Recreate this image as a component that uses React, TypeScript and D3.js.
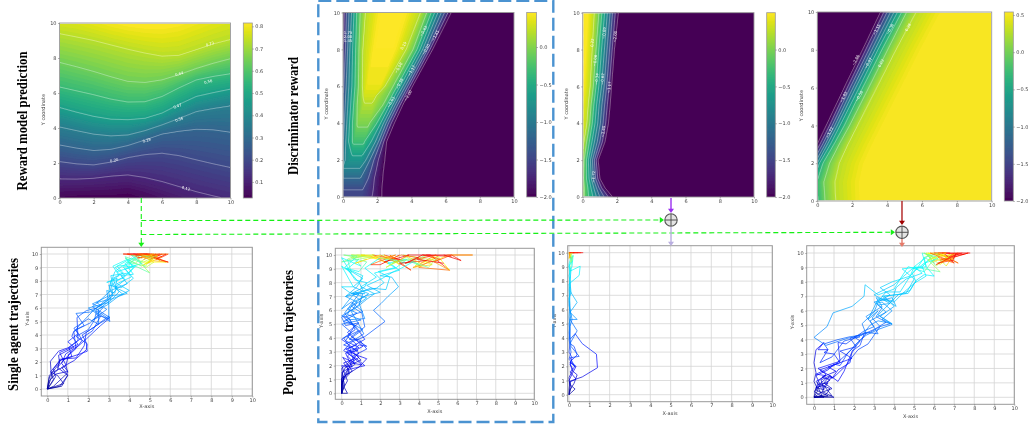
import React, { useEffect, useRef } from 'react'
import * as d3 from 'd3'

const width = 1028
const height = 425
const gridSize = 170

// ---- reward model field: height of each contour per x column
const rewardColumns = [0, 1, 2, 3, 4, 5, 6, 7, 8, 9, 10]
const rewardValues = [0.03, 0.12, 0.2, 0.28, 0.36, 0.47, 0.56, 0.64, 0.73, 0.82]
const rewardHeights = [
  [-0.1, 1.09, 2.08, 3.03, 4.06, 5.17, 6.34, 7.75, 9.39, 11],
  [0, 1.08, 1.95, 2.85, 3.85, 4.9, 6.12, 7.5, 9.2, 11],
  [0, 1.13, 1.89, 2.71, 3.65, 4.66, 5.9, 7.23, 9, 10.6],
  [0, 1.25, 2.05, 2.78, 3.55, 4.5, 5.65, 6.93, 8.75, 10.3],
  [0.1, 1.32, 2.31, 3, 3.6, 4.47, 5.48, 6.66, 8.5, 10.1],
  [-0.2, 1.17, 2.48, 3.32, 3.85, 4.55, 5.5, 6.6, 8.28, 10],
  [-0.6, 0.94, 2.56, 3.66, 4.18, 4.85, 5.8, 6.75, 8.1, 10],
  [-1, 0.65, 2.42, 3.82, 4.55, 5.35, 6.3, 7.05, 8.15, 10.2],
  [-1.5, 0.36, 2.18, 3.93, 4.94, 5.8, 6.75, 7.4, 8.47, 10.6],
  [-2, 0.12, 1.95, 3.9, 5.12, 6.02, 6.95, 7.7, 8.8, 11],
  [-2.5, -0.1, 1.74, 3.76, 5.27, 6.22, 7.1, 7.96, 9.05, 11.5],
]
const rewardTicks = [0.1, 0.2, 0.3, 0.4, 0.5, 0.6, 0.7, 0.8]
const rewardLabels: [string, number, number, number][] = [
  ['0.12', 7.4, 0.55, 15], ['0.20', 3.2, 2.15, -12], ['0.28', 5.1, 3.3, -15], ['0.36', 7, 4.5, -20],
  ['0.47', 6.9, 5.25, -20], ['0.56', 8.7, 6.65, -15], ['0.64', 7, 7.1, -15], ['0.73', 8.8, 8.8, -15],
]

// ---- discriminator reward, population: crossings per row, left and right of the ridge
const discRows = [0, 0.4, 1, 1.5, 2, 3, 4, 5, 5.5, 6, 8, 10]
const discLevels = [-2, -1.73, -1.45, -1.17, -0.9, -0.63, -0.36, -0.08, 0.19]
const discLeft = [
  [-1.2, -1, -0.8, -0.6, -0.5, -0.4, -0.3, -0.2, -0.1],
  [-1, -0.85, -0.7, -0.55, -0.45, -0.35, -0.25, -0.15, -0.05],
  [-0.8, -0.65, -0.45, -0.3, -0.2, -0.1, 0, 0.1, 0.2],
  [-0.7, -0.55, -0.35, -0.2, -0.05, 0.15, 0.3, 0.4, 0.5],
  [-0.6, -0.4, -0.2, -0.05, 0.12, 0.6, 0.7, 0.75, 0.8],
  [-0.5, -0.3, -0.12, 0.02, 0.16, 0.32, 0.55, 0.8, 0.9],
  [-0.35, -0.2, -0.05, 0.08, 0.22, 0.38, 0.55, 0.82, 1.05],
  [-0.3, -0.15, 0, 0.13, 0.28, 0.45, 0.62, 0.82, 1.25],
  [-0.28, -0.13, 0.02, 0.15, 0.31, 0.48, 0.66, 0.86, 1.17],
  [-0.25, -0.1, 0.05, 0.18, 0.34, 0.52, 0.7, 0.9, 1.13],
  [-0.1, 0.02, 0.14, 0.27, 0.4, 0.56, 0.74, 0.93, 1.15],
  [-0.05, 0.08, 0.2, 0.35, 0.5, 0.64, 0.8, 1, 1.3],
]
const discRight = [
  [2.28, 1.7, 1, 0.9, 0.8, 0.7, 0.6, 0.5, 0.4],
  [2.28, 1.77, 1.15, 0.95, 0.85, 0.75, 0.65, 0.55, 0.45],
  [2.33, 1.83, 1.48, 1, 0.9, 0.8, 0.7, 0.6, 0.5],
  [2.38, 1.95, 1.65, 1.3, 0.95, 0.85, 0.75, 0.65, 0.55],
  [2.45, 2.06, 1.8, 1.57, 1.34, 0.95, 0.85, 0.82, 0.81],
  [2.55, 2.38, 2.22, 2.08, 1.9, 1.65, 1.25, 1.1, 0.95],
  [3, 2.82, 2.66, 2.52, 2.37, 2.2, 1.98, 1.55, 1.3],
  [3.5, 3.35, 3.2, 3.06, 2.92, 2.75, 2.58, 2.35, 1.65],
  [3.78, 3.63, 3.5, 3.35, 3.2, 3.04, 2.87, 2.64, 1.95],
  [4.06, 3.92, 3.79, 3.65, 3.5, 3.34, 3.16, 2.93, 2.45],
  [5.24, 5.09, 4.95, 4.82, 4.66, 4.5, 4.33, 4.1, 3.7],
  [6.33, 6.14, 5.94, 5.75, 5.55, 5.36, 5.16, 4.9, 4.54],
]
const discRidge = [0.15, 0.2, 0.35, 0.52, 0.805, 0.92, 1.12, 1.42, 1.55, 1.8, 2.4, 2.9]
const discPeak = [-1.5, -1.45, -1.18, -0.92, -0.73, -0.3, -0.02, 0.17, 0.29, 0.38, 0.46, 0.46]
const discTicks = [-2, -1.5, -1, -0.5, 0]
const discLabels: [string, number, number, number][] = [
  ['0.19', 3.54, 8.2, -60], ['-0.08', 3.25, 7, -60], ['-0.36', 3.3, 6.15, -60], ['-0.63', 2.8, 5.15, -60],
  ['-1.17', 4, 6.85, -60], ['-0.90', 4.85, 8, -60], ['-0.63', 4.7, 9, -60], ['-1.45', 5.4, 8.75, -60],
  ['-2.00', 3.8, 5.5, -60], ['-1.73', 0.2, 8.9, 0], ['-2.00', 0.2, 8.7, 0], ['-1.45', 0.2, 8.5, 0],
]

// ---- discriminator reward, column 3: crossings per row
const thirdRows = [0, 0.5, 1, 2, 3, 4, 5, 6, 8, 10]
const thirdLevels = [-2, -1.72, -1.45, -1.17, -0.89, -0.62, -0.34, -0.06, 0.22]
const thirdCrossings = [
  [1.75, 1.5, 1.25, 1, 0.8, 0.6, 0.35, 0.1, -0.1],
  [1.3, 1.1, 0.95, 0.8, 0.65, 0.48, 0.3, 0.1, -0.08],
  [1, 0.88, 0.75, 0.62, 0.5, 0.37, 0.22, 0.05, -0.1],
  [0.9, 0.79, 0.68, 0.57, 0.45, 0.33, 0.22, 0.08, -0.05],
  [1.3, 1.15, 1, 0.85, 0.69, 0.54, 0.39, 0.23, 0.08],
  [1.5, 1.34, 1.19, 1.03, 0.88, 0.72, 0.56, 0.41, 0.25],
  [1.6, 1.44, 1.28, 1.12, 0.96, 0.81, 0.65, 0.49, 0.33],
  [1.68, 1.55, 1.4, 1.25, 1.1, 0.94, 0.78, 0.62, 0.44],
  [1.85, 1.72, 1.57, 1.42, 1.27, 1.1, 0.94, 0.78, 0.56],
  [2.08, 1.9, 1.74, 1.6, 1.44, 1.28, 1.12, 0.95, 0.68],
]
const thirdLabels: [string, number, number, number][] = [
  ['0.22', 0.56, 8.37, -85], ['-0.06', 0.72, 7.4, -85], ['-0.34', 0.82, 6.4, -85], ['-0.62', 1.15, 6.4, -85],
  ['-0.89', 1.25, 8.9, -85], ['-1.17', 1.55, 5.95, -85], ['-1.45', 1.2, 3.55, -85], ['-2.00', 1.89, 8.7, -85],
  ['-1.72', 0.62, 1.1, -85],
]

// ---- discriminator reward, column 4: crossings per row
const fourthRows = [0, 1, 2, 3, 4, 6, 8, 10]
const fourthLevels = [-2, -1.72, -1.43, -1.15, -0.87, -0.58, -0.3, -0.02, 0.26]
const fourthCrossings = [
  [-1.2, -1, -0.8, -0.6, -0.4, -0.2, 0.05, 0.44, 1.05],
  [-1, -0.85, -0.7, -0.55, -0.4, -0.25, -0.03, 0.37, 1],
  [-0.6, -0.45, -0.3, -0.15, 0, 0.12, 0.32, 0.7, 1.25],
  [0, 0.15, 0.3, 0.45, 0.58, 0.75, 0.95, 1.25, 1.75],
  [0.52, 0.7, 0.85, 1, 1.15, 1.3, 1.55, 1.85, 2.3],
  [1.55, 1.72, 1.88, 2.05, 2.2, 2.4, 2.6, 2.95, 3.4],
  [2.6, 2.77, 2.95, 3.12, 3.3, 3.47, 3.7, 4.03, 4.5],
  [3.63, 3.82, 4, 4.2, 4.4, 4.6, 4.84, 5.12, 5.66],
]
const fourthLabels: [string, number, number, number][] = [
  ['-1.72', 0.7, 3.63, -62], ['-1.43', 1.5, 5.5, -62], ['-2.00', 2.2, 7.46, -62], ['-0.58', 2.4, 5.55, -62],
  ['-0.87', 2.93, 7.3, -62], ['0.02', 3.65, 7.3, -62], ['-1.15', 3.4, 9.07, -62], ['-0.30', 4.17, 9.1, -62],
  ['0.26', 5.2, 9.2, -62],
]

const axisTicks = [0, 2, 4, 6, 8, 10]
const trajTicks = [0, 1, 2, 3, 4, 5, 6, 7, 8, 9, 10]

// ---- trajectories, each one x,y,x,y...
const singleAgentPaths = [
  [0,0,.6,.2,1,1,.5,1.6,.9,2.3,1.4,3,1.3,4.2,1.5,4.6,1.8,5.1,2.3,5.9,2.9,6.5,3.2,7,3.1,7.9,3.3,8.7,3.6,9.05,4.2,9.5,4.6,10,5,9.7,5.4,9.9,4.9,9.3,5.3,10,4.7,9.6],
  [0,0,.2,.9,.15,2.05,.55,2.8,1.1,3.1,1.5,3.6,1.45,5.3,1.9,5.8,2.4,6,3,6.8,3.4,7.4,3.2,8.2,3.7,8.6,3.4,9.1,4,9.2,4.4,9.9,5,10,5.5,9.5,5.1,9.9,5.9,10,5.5,9.7,4.8,10],
  [0,0,.7,.2,1,1.05,.7,1.6,1.3,2.1,1.9,2.9,1.95,3.3,1.7,4,2.3,4.6,3,5.4,3.05,5,2.3,5.8,2.9,6.2,3.5,6.9,4,7.3,3.4,7.8,4.1,8.3,3.7,9.05,4.3,9.1,5,8.6,4.5,9.4,5.8,9.4,5.1,9.9,4.4,9.7,5.5,10],
  [0,0,.1,1,.6,1.9,.55,2.5,1.3,3.1,1,3.5,1.5,4.1,1.3,4.5,2,5.2,2.5,4.8,2.5,5.9,3.1,6.6,3,7.1,3.1,8,3.5,8.4,3.2,9.1,3.9,9.6,4.3,9.3,4.7,10,5.2,9.5,5.9,9.4,4.9,9.8,4.2,10],
  [0,0,.3,.7,.2,1.2,.9,1.7,1.05,2.6,1.6,3.3,1.9,3.7,2.6,4.7,3,5.2,2.4,5.5,2.7,6,2.2,6.3,3,6.9,3.7,7,3.3,7.5,3.8,8.1,3.4,8.7,4.2,9.05,3.8,9.8,4.5,9.4,5.2,10,4.6,9.7,3.9,10,4.9,10],
  [0,0,.1,.6,.4,1.1,1,1.3,.7,1.9,.9,2.6,1.5,3.2,1.7,3.6,1.4,4.4,1.8,4.7,1.4,5.6,2.1,5.7,2.7,6.3,3.2,6.9,3,7.7,3.6,7.5,4.2,8.2,3.8,8.9,4.6,9.3,4.1,9.9,5.3,9.8,4.7,9.2,5.6,9.8,5.1,10,4.3,9.9],
  [0,0,.2,.4,.4,.9,.3,1.5,.7,2.2,1.2,2.4,1.05,3.1,1.7,3.8,2.2,4.3,2.6,5.4,2.2,5.1,2.9,5.9,2.4,6.4,3.2,6.7,3.9,7.1,3.2,7.6,3.1,8.4,4,8.6,4.3,9.1,3.9,9.4,4.8,9.1,5.1,9.9,4.4,10,5,9.6,5.6,10],
  [0,0,.8,.4,.5,1,.15,1.25,.6,2.1,1.6,2.6,1.95,2.8,1.9,3.4,1.4,3.9,2,4.4,2.3,5.1,2.4,5.8,3,5.2,3,6.2,2.9,7.3,3.3,7.1,3.4,8.2,2.9,7.9,3.7,8.2,4.2,9,3.8,9.7,4.6,9.1,5.4,9.9,4.7,10,5.9,9.4],
  [0,0,.3,.2,1,1.2,.9,1.8,.6,2.7,1.5,3.3,1.2,3.9,1.3,4.3,2.1,4.9,2.5,5.5,2,6,3,6.4,3.5,7.2,3.2,7.8,3.8,8.4,3.3,9,4.1,9.7,4.7,9.4,5.2,9.8,4.5,10,5.8,10,5.3,9.6],
  [0,0,.1,.9,.5,1.4,.6,2.2,1.4,2.3,1.8,3.2,1.9,4.2,2.6,4.9,3.05,5.3,2.2,6.1,2.6,6.6,3.1,7.3,3.9,7.8,3.6,8.4,4.2,8.5,3.8,9.3,4.3,9.8,4.8,9,5.2,9.4,4.6,9.9,3.7,10,5,10],
]

const populationPaths = [
  [0,0,.3,0,.1,.5,0,1,.3,1.7,1.2,2,.6,2.7,1.3,3.2,.9,3.9,.4,3.9,1.1,4.6,.2,5.3,1.2,5.4,.9,6.5,1.3,6.9,.4,7.3,0,7.7,.6,7.7,0,9.2,.5,8.7,.3,9.7,.8,10,1.5,9.9,2.4,9.4,1.6,10,3.2,9.6,2.2,10],
  [0,0,0,.9,.2,1.3,.9,1.9,1.3,2.5,.7,2.8,.2,3.2,.8,3.5,.3,4.1,.7,4.9,.1,5.2,.8,5.8,.3,6.1,1,6.7,.6,7.1,1.5,7.6,2.3,7.5,2.5,8.4,1.9,8.8,2.8,9.1,2.2,9.7,3.4,9.4,4.4,10,3.8,9.2,5,9.9,4,9.1,5.6,8.9,4.6,10,3.4,10],
  [0,0,0,.7,.3,1.6,.5,2.2,1.05,2.05,.6,2.6,.1,3.1,.5,3.7,1.2,4.1,2.25,5.2,1.65,6,2.05,6.5,2.4,7,2.95,7.7,2.6,8.4,2,8.5,3,8.9,2.4,9.4,3.3,9.7,4.1,9.2,3.2,10,4.9,9.6,5.5,10,6.8,10,5.7,10,6.2,9.6,5.3,10],
  [0,0,.1,1,0,1.8,.5,2.4,.9,2.9,.3,3.6,0,3.9,.7,4.6,.4,5.4,0,5.6,.6,6.1,.8,6.6,.2,7,1.2,7.7,1.3,8,.7,8.2,.3,9,.9,9.7,0,9.5,1.2,10,.5,10,1.9,9.7,2.8,10,1.5,9.3,2,9.3,3,10],
  [0,0,0,1.3,.2,1.9,1,2.4,.6,3,1.1,3.4,.3,4.4,.9,5.1,.2,4.9,0,5.5,.9,6.4,1.1,7.2,.5,7.2,1.8,7.6,2.2,8,1.7,8.7,2.8,9.05,3.4,9.7,2.6,9.4,3.9,9.8,4.7,9.3,3.7,9.1,5.1,9.7,4.2,10,5.7,9.9],
  [0,0,.15,.6,0,1.5,.7,2.1,.3,2.7,.9,3.5,1.3,3.4,.5,4.1,1.2,4.8,1.05,5.8,.5,6.3,.85,6.7,1.4,7.2,.6,7.7,1.1,8.3,.4,8.9,0,9.8,1,9.2,.5,10,1.6,9.8,2.2,10,3,9.3,2.5,10,3.6,8.9,3,9.4,4.4,9.6],
  [0,0,0,.5,.1,1.1,.4,1.6,.1,2.2,.7,2.5,.25,3,.9,3.3,.2,3.8,.5,4.4,0,5,1,5.3,.3,5.7,.6,6.6,1.25,7.05,2,7.3,1.3,7.8,2.1,8.3,2.7,8.8,3.1,9.05,3.7,9.5,4.5,9.1,5,9.9,5.6,8.9,4.8,9.5,5.7,10,4.4,10],
  [0,0,.05,.9,.4,1.4,.25,2,.9,2.6,.3,3.2,1.2,3.9,.8,4.7,.1,5.5,1.1,5.9,.5,6.6,0,6.1,.7,7.3,1.2,7.2,.9,8,.35,8.9,.15,9.1,.8,9.9,.1,10,1.3,9.7,.7,9.4,2,10,2.8,9.5,3.5,10,2.2,9.5],
  [0,0,.1,.4,.3,.9,0,2,.55,1.9,.2,2.9,.85,3.1,.1,3.5,.7,3.9,1.15,4.3,.8,5.2,.5,5.9,1.3,6.8,1.7,7.2,1,7.7,1.8,8.4,1.2,9.05,2,9.8,2.9,9.6,2.3,9.1,3.4,9.9,4.1,9.4,4.9,10,3.9,9.7,5.3,9.4],
  [0,0,0,1.1,.55,1.6,.05,2.6,.65,2.2,.4,3.4,.1,4,.85,4.5,.15,5.8,.9,7.2,.2,7,.8,7.7,1.1,8.5,.2,9.05,.9,8.8,1.3,9.5,.5,9.8,1.7,10,1,10,2.5,9.7,3.1,10,4,9.8,3.3,9.4,4.2,10],
]

const thirdPaths = [
  [0,0,.3,.4,.05,.7,0,1,.2,1.6,.35,2,.05,2.3,.4,2.8,.25,3.4,.05,3.6,.4,4.5,.05,5.3,.4,5.3,.05,5.8,.4,6.5,.05,7.3,0,7.8,.5,8.4,.55,9.05,.05,8.7,.15,9.5,.05,9.9,0,10,.4,10,.7,10],
  [0,0,.1,.5,.05,.95,.65,1.25,1.4,1.9,1.35,2.85,.65,3.6,.3,4.3,.05,3.9,.05,4.8,.15,5.3,.05,6,0,6.8,.1,7.2,.05,7.9,0,8.4,.15,9.05,.2,9.8,.05,9.6,0,10,.3,10,.6,10],
  [0,0,.05,.35,.25,.8,.4,1.4,.15,1.7,.05,2.3,.3,1.95,.05,2.6,.5,2.7,.1,3.4,.05,4,0,5,.1,5.6,0,6.3,.05,7,.05,8,.1,8.8,0,9.05,.2,9.8,.1,9.3,0,10,.2,10,.45,10],
  [0,0,0,.4,.05,.9,.35,1.1,.05,1.6,.3,2,0,2.5,.1,3,0,3.9,.05,4.6,0,5.5,.05,6.4,0,7.4,.05,8.3,0,9.05,.15,9.4,.05,9.9,.1,9.6,0,10,.25,10],
  [0,0,.05,.6,0,1.2,.2,1.8,.05,2.1,.15,2.6,0,3,.05,3.6,0,4.4,.05,5,.05,6,0,6.6,.05,7.6,.05,8.6,0,9.2,.1,9.7,.15,10,0,9.6,.05,10,.3,10],
]

const fourthPaths = [
  [0,0,.5,0,0,.4,.3,.8,.1,1.1,.6,1.5,.1,1.6,1,2.2,1.4,2.7,1.8,3.2,2.1,3.7,2.6,4.3,3.2,4.7,3.9,5.05,3.3,5.6,4,6.3,3.5,7,4.6,7.2,5,8.2,4.4,8.9,5.4,9.05,5.9,9.8,5.5,10,6.3,9.2,7,10,6.5,9.5,7.7,10,6.9,9.7],
  [0,0,1,0,.4,.4,.7,1,.2,.9,.4,.6,.9,1.4,.3,1.9,1.3,2.4,1,3,.5,3.1,.7,3.3,.5,3.7,1.2,4,1.8,4.2,2.4,4.3,2.8,5,3.2,5.3,3.9,5.1,3.2,5.7,3.7,6.4,4.2,7.1,4.8,7.4,5.1,8.1,5.5,8.5,6,8.4,5.6,9.05,5.4,10,6.2,9.7,6.6,9.1,7,9.9,6.3,9.5,7.4,10],
  [0,0,.2,.5,0,1.1,.1,1.7,0,2.4,.1,3.3,.5,3.8,.2,3.3,.7,3.3,.3,2.4,.9,2.8,1.5,3.9,2.3,4.2,1.7,4.1,.6,3.6,0,4.15,.65,4.9,.95,5.85,1.9,6.3,2.5,7,2.55,7.8,3.2,7.1,4,7.5,4.3,8.2,4.7,9.05,5.5,8.7,6,9.6,5.7,10,6.5,9.8,7.2,9.3,6.2,10,6.8,10],
  [0,0,.6,.2,.8,.6,.3,.9,.1,1.5,.7,1.9,1,2.3,1.3,2.2,1.7,3.1,2,3.5,2.6,4.4,2.4,5.1,3,5.9,3.2,6.6,3.8,7.1,3.3,7.6,3.9,8,4.8,8.4,5.2,9.05,5.5,9.7,6,9.3,5.6,10,6.6,9.8,7.2,10,6.2,9.3,6.9,9.5],
  [0,0,.3,.3,.9,.6,.5,1,.8,1.5,1.2,1.1,1.5,1.8,1.85,3,2,3.3,2.3,3.6,2.5,4.4,3,4.7,3.6,5.2,3.1,5.6,3.4,6.2,3,6.6,3.9,6.9,4.1,6.3,3.4,7,4.7,7.2,5,7.9,5.6,8.4,5.4,9.05,5.7,9.5,6.3,9.9,5.9,9.4,6.7,9.7,6.4,10,7.5,9.9],
  [0,0,.1,.7,.5,.5,.35,1.2,.8,1.5,.9,1.3,1.2,1.9,1.8,2.4,1.9,3.2,2.3,3.9,2,4.2,2.8,4.5,3.3,4.9,2.9,5.5,3.2,6,2.7,5.4,3.2,6.8,4,6.6,4.5,7.3,5.1,8,4.9,8.6,5.5,9.3,6.2,9.6,5.6,9.9,6.4,9.4,7,9.6,6,10,7.8,10],
  [0,0,.7,.1,.1,.5,.2,1.1,.6,1.6,.2,2,1.3,2.5,1.2,3.8,1.6,3.7,2.1,4.2,2.5,4.6,3,4.9,2.6,5.6,3.4,6.3,3.1,6.9,3.9,6.7,4.1,7.6,4.6,8.2,5.4,8.6,5,9.05,5.7,9.8,6.1,9.1,6.8,9.9,6.2,9.7,7,9.3,6.5,10],
  [0,0,.4,.1,.2,.7,.8,1.2,.4,1.4,1.1,1.8,.7,2.1,1.9,2.7,1.3,3.2,2.1,3.5,1.8,4.1,2.6,4.5,3.2,4.4,2.8,5.3,3.6,5.9,3.2,6.4,3.8,6.5,3,7.1,4,7.8,4.4,8.3,4.9,8.9,5.6,9.05,5.5,9.7,6.2,10,6.8,9.6,6.1,9.2,7.3,10],
  [0,0,.9,.1,.5,.8,.1,.7,.6,1.3,1,1.4,1.6,2.2,1.85,2.7,2.2,3.3,2.7,3.7,3.3,4.9,3.8,5.1,3.4,5.4,3.9,6,3.4,6.6,3.1,6.5,3.6,7.3,4.3,7.3,4.8,8.4,5,9.05,5.5,8.9,6.3,8.7,5.7,9.5,6.6,10,5.8,10,6.9,9.4,7.1,10],
]

const jet = d3.scaleLinear<string>()
  .domain([0, 0.11, 0.35, 0.64, 0.89, 1])
  .range(['#00007f', '#0000ff', '#00ffff', '#ffff00', '#ff0000', '#d00000'])

// contour heights for one row, then the value along that row
const crossingField = (rows: number[], table: number[][], values: number[]) => {
  const rowScale = d3.scaleLinear<any>().domain(rows).range(table).clamp(true)
  return (u: number, v: number) => {
    const knots: number[] = rowScale(u)
    return d3.scaleLinear().domain(knots).range(values).clamp(true)(v)
  }
}

const heatPanels = () => {
  const reward = crossingField(rewardColumns, rewardHeights, rewardValues)

  const discTable = discRows.map((_, i) => [
    discLeft[i][0] - 0.5,
    ...discLeft[i],
    discRidge[i],
    ...[...discRight[i]].reverse(),
    discRight[i][0] + 0.15,
  ])
  const discValues = [-2.2, ...discLevels, 0.68, ...[...discLevels].reverse(), -2.2]
  const discRaw = crossingField(discRows, discTable, discValues)
  const discCap = d3.scaleLinear().domain(discRows).range(discPeak).clamp(true)

  const thirdTable = thirdCrossings.map(r => [r[8] - 0.4, ...[...r].reverse(), r[0] + 0.15])
  const thirdRaw = crossingField(thirdRows, thirdTable, [0.5, ...[...thirdLevels].reverse(), -2.2])

  const fourthTable = fourthCrossings.map(r => [r[0] - 0.3, ...r, r[8] + 1.6])
  const fourthRaw = crossingField(fourthRows, fourthTable, [-2.2, ...fourthLevels, 0.54])

  return [
    { box: [59.5, 230.5, 23, 198], bar: [243.3, 252.3], lo: 0.028, hi: 0.815, levels: rewardValues.slice(1, -1), ticks: rewardTicks, labels: rewardLabels, at: (x: number, y: number) => reward(x, y), yLabelX: 45 },
    { box: [343, 514, 12.5, 197], bar: [526.7, 536.5], lo: -2, hi: 0.46, levels: discLevels, ticks: discTicks, labels: discLabels, at: (x: number, y: number) => Math.min(discRaw(y, x), discCap(y)), yLabelX: 328 },
    { box: [582.7, 754, 12.7, 197], bar: [766.7, 775.3], lo: -2, hi: 0.5, levels: thirdLevels, ticks: discTicks, labels: thirdLabels, at: (x: number, y: number) => thirdRaw(y, x), yLabelX: 568 },
    { box: [817.3, 991.7, 12, 201], bar: [1004.3, 1013.3], lo: -2, hi: 0.54, levels: fourthLevels, ticks: [-2, -1.5, -1, -0.5, 0, 0.5], labels: fourthLabels, at: (x: number, y: number) => fourthRaw(y, x), yLabelX: 803 },
  ]
}

const trajPanels = [
  { paths: singleAgentPaths, box: [41.3, 252.3, 247.3, 396], x0: 47.3, y10: 254, y0: 389, xLabelY: 408, yLabelX: 29 },
  { paths: populationPaths, box: [335.3, 534.3, 248.3, 399.3], x0: 341.7, y10: 255, y0: 393.3, xLabelY: 413, yLabelX: 323 },
  { paths: thirdPaths, box: [567.7, 772.3, 245.7, 401.7], x0: 569, y10: 252.7, y0: 394.7, xLabelY: 415, yLabelX: 555.5 },
  { paths: fourthPaths, box: [806.7, 1014.3, 245.7, 404.3], x0: 814, y10: 253, y0: 397.3, xLabelY: 418, yLabelX: 794 },
]

// text, x, y, length along the page
const titles: [string, number, number, number][] = [
  ['Reward model prediction', 22, 121, 139],
  ['Discriminator reward', 293, 116, 118],
  ['Single agent trajectories', 13, 324.5, 133],
  ['Population trajectories', 288, 332.5, 125],
]

const styleAxis = (g: any) => {
  g.select('.domain').remove()
  g.selectAll('line').attr('stroke', '#666').attr('stroke-width', 0.5)
  g.selectAll('text').attr('fill', '#444').attr('font-size', 5).attr('font-family', 'DejaVu Sans')
}

const App = () => {
  const ref = useRef<SVGSVGElement>(null)

  useEffect(() => {
    const svg = d3.select(ref.current)
    svg.selectAll('*').remove()
    const defs = svg.append('defs')
    defs.append('filter').attr('id', 'soft').append('feGaussianBlur').attr('stdDeviation', 0.45)
    const root = svg.append('g').attr('filter', 'url(#soft)')

    // heatmaps
    heatPanels().forEach((p, pi) => {
      const [left, right, top, bottom] = p.box
      const x = d3.scaleLinear().domain([0, 10]).range([left, right])
      const y = d3.scaleLinear().domain([0, 10]).range([bottom, top])
      const color = (z: number) => d3.interpolateViridis(Math.max(0, Math.min(1, (z - p.lo) / (p.hi - p.lo))))

      const values = new Array(gridSize * gridSize)
      for (let j = 0; j < gridSize; j++) {
        for (let i = 0; i < gridSize; i++) {
          values[j * gridSize + i] = p.at((i + 0.5) / gridSize * 10, 10 - (j + 0.5) / gridSize * 10)
        }
      }
      const gen = d3.contours().size([gridSize, gridSize])
      const path = d3.geoPath(d3.geoIdentity().scale(1))
      const g = root.append('g').attr('transform', `translate(${left},${top}) scale(${(right - left) / gridSize},${(bottom - top) / gridSize})`)
      g.append('rect').attr('width', gridSize).attr('height', gridSize).attr('fill', color(p.lo))
      const step = (p.hi - p.lo) / 64
      d3.range(p.lo + step, p.hi, step).forEach(t => {
        g.append('path').attr('d', path(gen.contour(values, t) as any)).attr('fill', color(t + step / 2))
      })
      p.levels.forEach(t => {
        g.append('path').attr('d', path(gen.contour(values, t) as any)).attr('fill', 'none')
          .attr('stroke', '#fff').attr('stroke-opacity', 0.5).attr('stroke-width', 0.7)
          .attr('vector-effect', 'non-scaling-stroke')
      })
      p.labels.forEach(([s, lx, ly, a]) => {
        root.append('text').attr('transform', `translate(${x(lx)},${y(ly)}) rotate(${a})`)
          .attr('text-anchor', 'middle').attr('dy', '0.35em').attr('font-size', 3.8)
          .attr('font-family', 'DejaVu Sans').attr('fill', '#fff').text(s.replace('-', '\u2212'))
      })

      root.append('rect').attr('x', left).attr('y', top).attr('width', right - left).attr('height', bottom - top)
        .attr('fill', 'none').attr('stroke', '#999').attr('stroke-width', 0.9)
      root.append('g').attr('transform', `translate(0,${bottom})`)
        .call(d3.axisBottom(x).tickValues(axisTicks).tickSize(1.5).tickPadding(1).tickFormat(d3.format('d') as any)).call(styleAxis)
      root.append('g').attr('transform', `translate(${left},0)`)
        .call(d3.axisLeft(y).tickValues(axisTicks).tickSize(1.5).tickPadding(1.5).tickFormat(d3.format('d') as any)).call(styleAxis)
      root.append('text').attr('transform', `translate(${p.yLabelX},${(top + bottom) / 2 - 1}) rotate(-90)`)
        .attr('text-anchor', 'middle').attr('font-size', 5).attr('font-family', 'DejaVu Sans').attr('fill', '#444').text('Y coordinate')

      // colorbar
      const [bl, br] = p.bar
      const barY = d3.scaleLinear().domain([p.lo, p.hi]).range([bottom, top])
      const grad = defs.append('linearGradient').attr('id', `bar${pi}`).attr('x1', 0).attr('x2', 0).attr('y1', 1).attr('y2', 0)
      d3.range(0, 1.001, 0.05).forEach(t => grad.append('stop').attr('offset', t).attr('stop-color', d3.interpolateViridis(t)))
      root.append('rect').attr('x', bl).attr('y', top).attr('width', br - bl).attr('height', bottom - top)
        .attr('fill', `url(#bar${pi})`).attr('stroke', '#999').attr('stroke-width', 0.8)
      root.append('g').attr('transform', `translate(${br},0)`)
        .call(d3.axisRight(barY).tickValues(p.ticks).tickSize(1.5).tickPadding(1.5).tickFormat(d3.format('.1f') as any)).call(styleAxis)
    })

    // trajectories
    trajPanels.forEach(p => {
      const [left, right, top, bottom] = p.box
      const x = d3.scaleLinear().domain([0, 10]).range([p.x0, right])
      const y = d3.scaleLinear().domain([0, 10]).range([p.y0, p.y10])
      const g = root.append('g')
      g.append('rect').attr('x', left).attr('y', top).attr('width', right - left).attr('height', bottom - top).attr('fill', '#fff')
      trajTicks.forEach(t => {
        g.append('line').attr('x1', x(t)).attr('x2', x(t)).attr('y1', top).attr('y2', bottom).attr('stroke', '#d4d4d4').attr('stroke-width', 0.8)
        g.append('line').attr('x1', left).attr('x2', right).attr('y1', y(t)).attr('y2', y(t)).attr('stroke', '#d4d4d4').attr('stroke-width', 0.8)
      })
      p.paths.forEach(flat => {
        const pts = d3.range(0, flat.length, 2).map(i => [flat[i], flat[i + 1]])
        const reached = Math.max(1, pts.findIndex(d => d[1] >= 9))
        const progress = d3.scaleLinear().domain([0, reached, pts.length - 1]).range([0.03, 0.36, 1])
        d3.pairs(pts).forEach(([a, b], i) => {
          g.append('line').attr('x1', x(a[0])).attr('y1', y(a[1])).attr('x2', x(b[0])).attr('y2', y(b[1]))
            .attr('stroke', jet(progress(i))).attr('stroke-width', 0.7)
        })
      })
      g.append('rect').attr('x', left).attr('y', top).attr('width', right - left).attr('height', bottom - top)
        .attr('fill', 'none').attr('stroke', '#999').attr('stroke-width', 1)
      g.append('g').attr('transform', `translate(0,${bottom})`)
        .call(d3.axisBottom(x).tickValues(trajTicks).tickSize(1.5).tickPadding(0.5).tickFormat(d3.format('d') as any)).call(styleAxis)
      g.append('g').attr('transform', `translate(${left},0)`)
        .call(d3.axisLeft(y).tickValues(trajTicks).tickSize(1.5).tickPadding(1.5).tickFormat(d3.format('d') as any)).call(styleAxis)
      g.append('text').attr('x', (left + right) / 2).attr('y', p.xLabelY).attr('text-anchor', 'middle')
        .attr('font-size', 5).attr('font-family', 'DejaVu Sans').attr('fill', '#444').text('X-axis')
      g.append('text').attr('transform', `translate(${p.yLabelX},${(top + bottom) / 2 - 3}) rotate(-90)`)
        .attr('text-anchor', 'middle').attr('font-size', 5).attr('font-family', 'DejaVu Sans').attr('fill', '#444').text('Y-axis')
    })

    // titles
    titles.forEach(([s, tx, ty, len]) => {
      root.append('text').attr('transform', `translate(${tx},${ty}) rotate(-90)`).attr('text-anchor', 'middle')
        .attr('dy', '0.35em').attr('font-family', 'Liberation Serif').attr('font-weight', 'bold').attr('font-size', 14.5)
        .attr('textLength', len).attr('lengthAdjust', 'spacingAndGlyphs').attr('fill', '#000').text(s)
    })

    // the dashed box round the population column
    root.append('rect').attr('x', 318.3).attr('y', 0.8).attr('width', 235).attr('height', 421.2).attr('fill', 'none')
      .attr('stroke', '#4b93d1').attr('stroke-width', 2.4).attr('stroke-dasharray', '13,5')

    // green dashed links
    const green = '#14f014'
    const dash = (x1: number, y1: number, x2: number, y2: number) =>
      root.append('line').attr('x1', x1).attr('y1', y1).attr('x2', x2).attr('y2', y2)
        .attr('stroke', green).attr('stroke-width', 1.1).attr('stroke-dasharray', '5,3')
    const head = (px: number, py: number, dir: 'right' | 'down', color: string, s = 3) =>
      root.append('path').attr('fill', color).attr('d', dir === 'down'
        ? `M${px - s},${py - s * 1.4}L${px + s},${py - s * 1.4}L${px},${py}Z`
        : `M${px - s * 1.4},${py - s}L${px - s * 1.4},${py + s}L${px},${py}Z`)
    dash(141.3, 198, 141.3, 243)
    dash(141.3, 220.5, 660, 220)
    dash(141.3, 234.5, 893, 232.3)
    head(141.3, 247, 'down', green)
    head(664, 220, 'right', green)
    head(895, 232.3, 'right', green)

    const solid = (px: number, y1: number, y2: number, color: string) =>
      root.append('line').attr('x1', px).attr('x2', px).attr('y1', y1).attr('y2', y2).attr('stroke', color).attr('stroke-width', 1.4)
    solid(671, 198, 210, '#9a2ff0')
    head(671, 213, 'down', '#9a2ff0')
    solid(671, 227, 242, '#b9aee0')
    head(671, 246, 'down', '#b9aee0')
    solid(902, 201, 222, '#b02020')
    head(902, 225, 'down', '#a00000')
    solid(902, 239, 243, '#e57a6a')
    head(902, 247, 'down', '#e57a6a')

    const circles: [number, number][] = [[671, 220], [902, 232.3]]
    circles.forEach(([cx, cy]) => {
      root.append('circle').attr('cx', cx).attr('cy', cy).attr('r', 6.2).attr('fill', '#e4e4e4').attr('stroke', '#555').attr('stroke-width', 1.1)
      root.append('line').attr('x1', cx - 6).attr('x2', cx + 6).attr('y1', cy).attr('y2', cy).attr('stroke', '#444').attr('stroke-width', 0.9)
      root.append('line').attr('x1', cx).attr('x2', cx).attr('y1', cy - 6).attr('y2', cy + 6).attr('stroke', '#444').attr('stroke-width', 0.9)
    })
  }, [])

  return (
    <svg ref={ref} width={width} height={height} viewBox={`0 0 ${width} ${height}`}
      style={{ position: 'absolute', left: 0, top: 0, background: '#fff' }} />
  )
}

export default App
